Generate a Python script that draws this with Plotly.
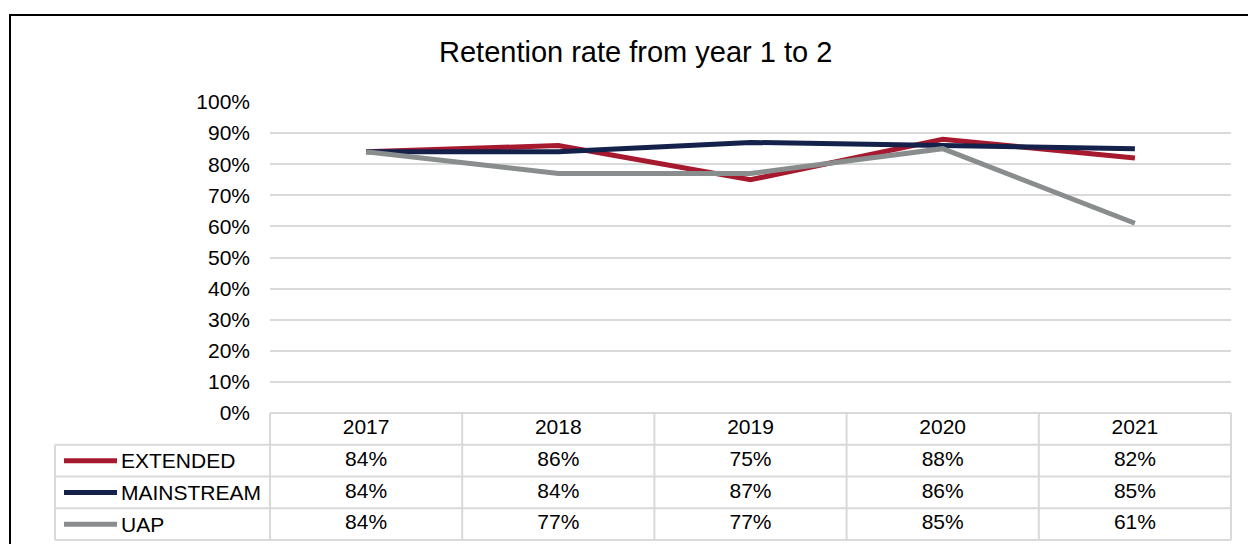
import plotly.graph_objects as go

# Data
years = ["2017", "2018", "2019", "2020", "2021"]
series_names = ["EXTENDED", "MAINSTREAM", "UAP"]
extended = [84, 86, 75, 88, 82]
mainstream = [84, 84, 87, 86, 85]
uap = [84, 77, 77, 85, 61]
y_ticks = [0, 10, 20, 30, 40, 50, 60, 70, 80, 90, 100]

colors = {"EXTENDED": "#A6192E", "MAINSTREAM": "#14214B", "UAP": "#898D8D"}
values = {"EXTENDED": extended, "MAINSTREAM": mainstream, "UAP": uap}

W, H = 1248, 544
FONT = "Liberation Sans, Arial, sans-serif"
GRID = "#D9D9D9"
TXT = 21


def px(x):
    return x / W


def py(y):
    return 1 - y / H


# Layout geometry (pixels)
plot_l, plot_r = 270, 1231
chart_top, chart_bot = 102, 413
table_bot = 540
row_h = (table_bot - chart_bot) / 4
legend_l = 55

fig = go.Figure()

# Lines
for name in series_names:
    fig.add_trace(go.Scatter(
        x=years, y=values[name], mode="lines", name=name,
        line=dict(color=colors[name], width=5),
        xaxis="x", yaxis="y", showlegend=False, hoverinfo="skip",
    ))

# Data table cells (header row of years, then one row per series)
fig.add_trace(go.Scatter(
    x=years, y=[3.5] * len(years), mode="text", text=years,
    textfont=dict(family=FONT, size=TXT, color="#000000"),
    xaxis="x", yaxis="y2", showlegend=False, hoverinfo="skip", cliponaxis=False,
))
for i, name in enumerate(series_names):
    fig.add_trace(go.Scatter(
        x=years, y=[2.5 - i] * len(years), mode="text",
        text=[f"{v}%" for v in values[name]],
        textfont=dict(family=FONT, size=TXT, color="#000000"),
        xaxis="x", yaxis="y2", showlegend=False, hoverinfo="skip", cliponaxis=False,
    ))

shapes = []
# Table grid: horizontal lines (the top one only spans the year columns)
for r in range(5):
    yy = chart_bot + r * row_h
    x0 = plot_l if r == 0 else legend_l
    shapes.append(dict(type="line", xref="paper", yref="paper",
                       x0=px(x0), x1=px(plot_r),
                       y0=py(yy), y1=py(yy), line=dict(color=GRID, width=2)))
# Table grid: vertical lines
col_w = (plot_r - plot_l) / len(years)
for c in range(len(years) + 1):
    xx = plot_l + c * col_w
    shapes.append(dict(type="line", xref="paper", yref="paper",
                       x0=px(xx), x1=px(xx), y0=py(chart_bot), y1=py(table_bot),
                       line=dict(color=GRID, width=2)))
shapes.append(dict(type="line", xref="paper", yref="paper",
                   x0=px(legend_l), x1=px(legend_l),
                   y0=py(chart_bot + row_h), y1=py(table_bot),
                   line=dict(color=GRID, width=2)))

# Legend keys inside the table's first column
annotations = []
for i, name in enumerate(series_names):
    yc = chart_bot + row_h * (i + 1.5)
    shapes.append(dict(type="line", xref="paper", yref="paper",
                       x0=px(64), x1=px(117), y0=py(yc), y1=py(yc),
                       line=dict(color=colors[name], width=5)))
    annotations.append(dict(text=name, xref="paper", yref="paper",
                            x=px(119), y=py(yc), xanchor="left", yanchor="middle",
                            showarrow=False,
                            font=dict(family=FONT, size=TXT, color="#000000")))

# Outer chart frame
shapes.append(dict(type="rect", xref="paper", yref="paper",
                   x0=px(10), x1=px(1262), y0=py(15), y1=py(560),
                   line=dict(color="#000000", width=2)))

annotations.append(dict(text="Retention rate from year 1 to 2", xref="paper", yref="paper",
                        x=px(635), y=py(52), xanchor="center", yanchor="middle",
                        showarrow=False,
                        font=dict(family=FONT, size=29, color="#000000")))

fig.update_layout(
    width=W, height=H,
    margin=dict(l=0, r=0, t=0, b=0),
    paper_bgcolor="white", plot_bgcolor="white",
    xaxis=dict(domain=[px(plot_l), px(plot_r)], type="category", range=[-0.5, 4.5],
               showticklabels=False, showgrid=False, zeroline=False, showline=False,
               anchor="y2", fixedrange=True),
    yaxis=dict(domain=[py(chart_bot), py(chart_top)], range=[0, 100],
               tickvals=y_ticks, ticktext=[f"{v}%" for v in y_ticks],
               tickfont=dict(family=FONT, size=TXT, color="#000000"),
               showgrid=True, gridcolor=GRID, gridwidth=2, zeroline=False,
               showline=False, ticks="", ticklabelstandoff=19, automargin=False,
               anchor="x", fixedrange=True),
    yaxis2=dict(domain=[py(table_bot), py(chart_bot)], range=[0, 4],
                showticklabels=False, showgrid=False, zeroline=False, showline=False,
                anchor="x", fixedrange=True),
    shapes=shapes,
    annotations=annotations,
    showlegend=False,
)

fig.write_html("out.html")
